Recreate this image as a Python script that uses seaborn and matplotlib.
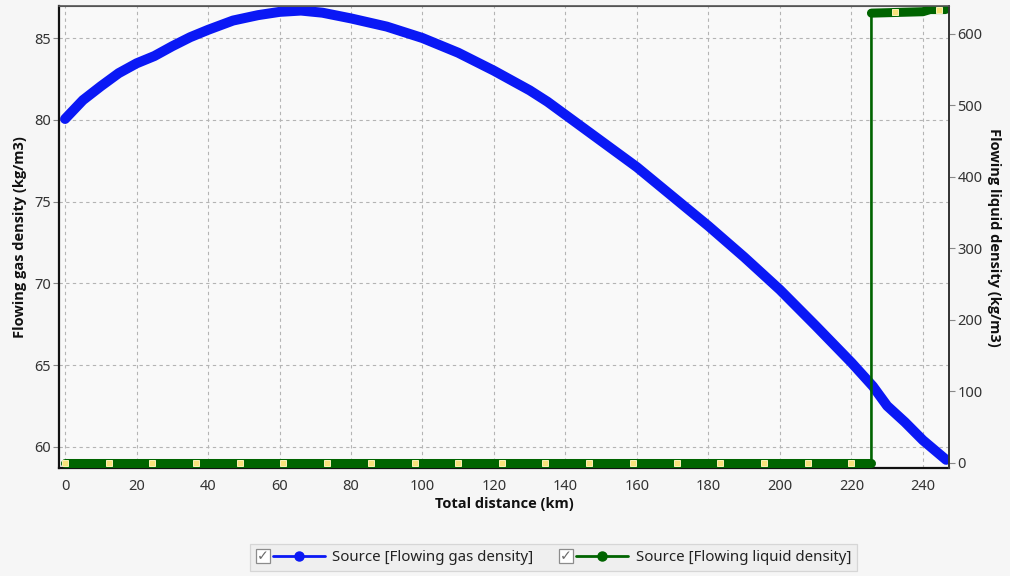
import numpy as np
import pandas as pd
import matplotlib
matplotlib.use("Agg")
import matplotlib.pyplot as plt
import seaborn as sns
from matplotlib.legend_handler import HandlerBase
from matplotlib.patches import Rectangle
from matplotlib.lines import Line2D
from matplotlib.text import Text

# ---------------- data ----------------
gas_km = [0, 5, 10, 15, 20, 25, 30, 35, 40, 47, 54, 60, 66, 72, 80, 90, 100, 110,
          120, 130, 135, 140, 145, 150, 160, 170, 180, 190, 200, 210, 220, 226,
          230, 235, 240, 246.5]
gas_density = [80.05, 81.2, 82.05, 82.85, 83.45, 83.9, 84.5, 85.05, 85.5, 86.07,
               86.4, 86.6, 86.68, 86.55, 86.2, 85.7, 85.0, 84.1, 83.0, 81.8, 81.1,
               80.3, 79.5, 78.7, 77.1, 75.3, 73.5, 71.6, 69.6, 67.4, 65.15, 63.7,
               62.5, 61.5, 60.4, 59.2]

liq_km = [0, 225.6, 225.6, 240, 242, 246.3]
liq_density = [0, 0, 629, 631, 634, 634]

node_km = [0, 12.2, 24.4, 36.7, 48.9, 61.1, 73.3, 85.6, 97.8, 110.0, 122.2, 134.4,
           146.7, 158.9, 171.1, 183.3, 195.5, 207.8, 220.0, 232.2, 244.4]
node_liq = [0] * 19 + [630, 634]

x_ticks = list(range(0, 241, 20))
gas_ticks = [60, 65, 70, 75, 80, 85]
liq_ticks = [0, 100, 200, 300, 400, 500, 600]

x_label = "Total distance (km)"
gas_label = "Flowing gas density (kg/m3)"
liq_label = "Flowing liquid density (kg/m3)"
gas_series = "Source [Flowing gas density]"
liq_series = "Source [Flowing liquid density]"

# ---------------- style ----------------
sns.set_style("white")
plt.rcParams["font.family"] = ["Noto Sans", "DejaVu Sans"]
LABEL_FONT = ["Open Sans", "DejaVu Sans"]

BLUE = "#0a18f5"
GREEN = "#006400"
FIG_BG = "#f6f6f6"
AX_BG = "#f9f9f9"

gas_df = pd.DataFrame({"km": gas_km, "rho": gas_density})
liq_df = pd.DataFrame({"km": liq_km, "rho": liq_density})

fig = plt.figure(figsize=(10.1, 5.76), dpi=100, facecolor=FIG_BG)
ax = fig.add_axes([0.0584, 0.1875, 0.8812, 0.8021])
ax.set_facecolor(AX_BG)
ax2 = ax.twinx()

sns.lineplot(data=gas_df, x="km", y="rho", ax=ax, color=BLUE, lw=7.2,
             solid_capstyle="round", solid_joinstyle="round",
             estimator=None, sort=False, legend=False)

# liquid: thin connecting line plus thick flat segments
sns.lineplot(data=liq_df, x="km", y="rho", ax=ax2, color=GREEN, lw=1.9,
             estimator=None, sort=False, legend=False)
sns.lineplot(data=liq_df.iloc[:2], x="km", y="rho", ax=ax2, color=GREEN, lw=6.5,
             solid_capstyle="round", estimator=None, sort=False, legend=False)
sns.lineplot(data=liq_df.iloc[2:], x="km", y="rho", ax=ax2, color=GREEN, lw=6.5,
             solid_capstyle="round", estimator=None, sort=False, legend=False)
ax2.plot(node_km, node_liq, ls="none", marker="s", ms=4.6,
         mfc="#f7e37a", mec="#fdf3b8", mew=0.7, zorder=5)

# axes limits / ticks
ax.set_xlim(-1.7, 247.3)
ax.set_ylim(58.7, 86.96)
ax2.set_ylim(-7, 639)
ax.set_xticks(x_ticks)
ax.set_yticks(gas_ticks)
ax2.set_yticks(liq_ticks)

for a in (ax, ax2):
    a.tick_params(axis="both", which="major", direction="out", length=4, width=0.8,
                  color="#888888", labelsize=10.5, labelcolor="#333333", pad=2)
ax.tick_params(axis="x", pad=4)

ax.grid(True, color="#b4b4b4", linestyle=(0, (3, 3)), lw=0.8)
ax2.grid(False)
ax.set_axisbelow(True)

for s in ("left", "bottom"):
    ax.spines[s].set_color("#111111")
    ax.spines[s].set_linewidth(1.6)
ax2.spines["right"].set_color("#333333")
ax2.spines["right"].set_linewidth(1.4)
ax2.spines["top"].set_color("#555555")
ax2.spines["top"].set_linewidth(1.2)
for s in ("left", "bottom"):
    ax2.spines[s].set_visible(False)
ax.spines["top"].set_color("#555555")
ax.spines["right"].set_visible(False)

ax.set_xlabel(x_label, fontsize=10.5, fontweight="bold", family=LABEL_FONT,
              color="#111111", labelpad=2)
ax.set_ylabel(gas_label, fontsize=10.5, fontweight="bold", family=LABEL_FONT,
              color="#111111", labelpad=5)
ax2.set_ylabel(liq_label, fontsize=10.5, fontweight="bold", family=LABEL_FONT,
               color="#111111", rotation=-90, labelpad=13)


# ---------------- legend with checkboxes ----------------
class CheckHandler(HandlerBase):
    def create_artists(self, legend, orig_handle, xdescent, ydescent, width,
                       height, fontsize, trans):
        color = orig_handle.get_color()
        s = height * 1.35
        y0 = -ydescent + (height - s) / 2
        box = Rectangle((-xdescent, y0), s, s, facecolor="#ffffff",
                        edgecolor="#8c8c8c", lw=0.9, transform=trans)
        chk = Text(-xdescent + s / 2, -ydescent + height / 2, "\u2713",
                   ha="center", va="center", fontsize=fontsize * 0.95,
                   color="#6a6a6a", family="DejaVu Sans", transform=trans)
        x1 = -xdescent + s + 2
        x2 = -xdescent + width
        ym = -ydescent + height / 2
        ln = Line2D([x1, x2], [ym, ym], color=color, lw=2, transform=trans)
        mk = Line2D([(x1 + x2) / 2], [ym], color=color, marker="o", ms=6.5,
                    ls="none", transform=trans)
        return [box, chk, ln, mk]


h_gas = Line2D([], [], color=BLUE)
h_liq = Line2D([], [], color=GREEN)
leg = fig.legend([h_gas, h_liq], [gas_series, liq_series], loc="center",
                 bbox_to_anchor=(0.548, 0.032), ncol=2, frameon=True,
                 fancybox=False, fontsize=10.8, handlelength=4.6,
                 handletextpad=0.5, columnspacing=1.7, borderpad=0.4,
                 borderaxespad=0.0, handler_map={Line2D: CheckHandler()})
leg.get_frame().set_facecolor("#eeeeee")
leg.get_frame().set_edgecolor("#cfcfcf")
leg.get_frame().set_linewidth(0.9)
for t in leg.get_texts():
    t.set_color("#222222")

fig.savefig("out.png", dpi=100, facecolor=FIG_BG)
